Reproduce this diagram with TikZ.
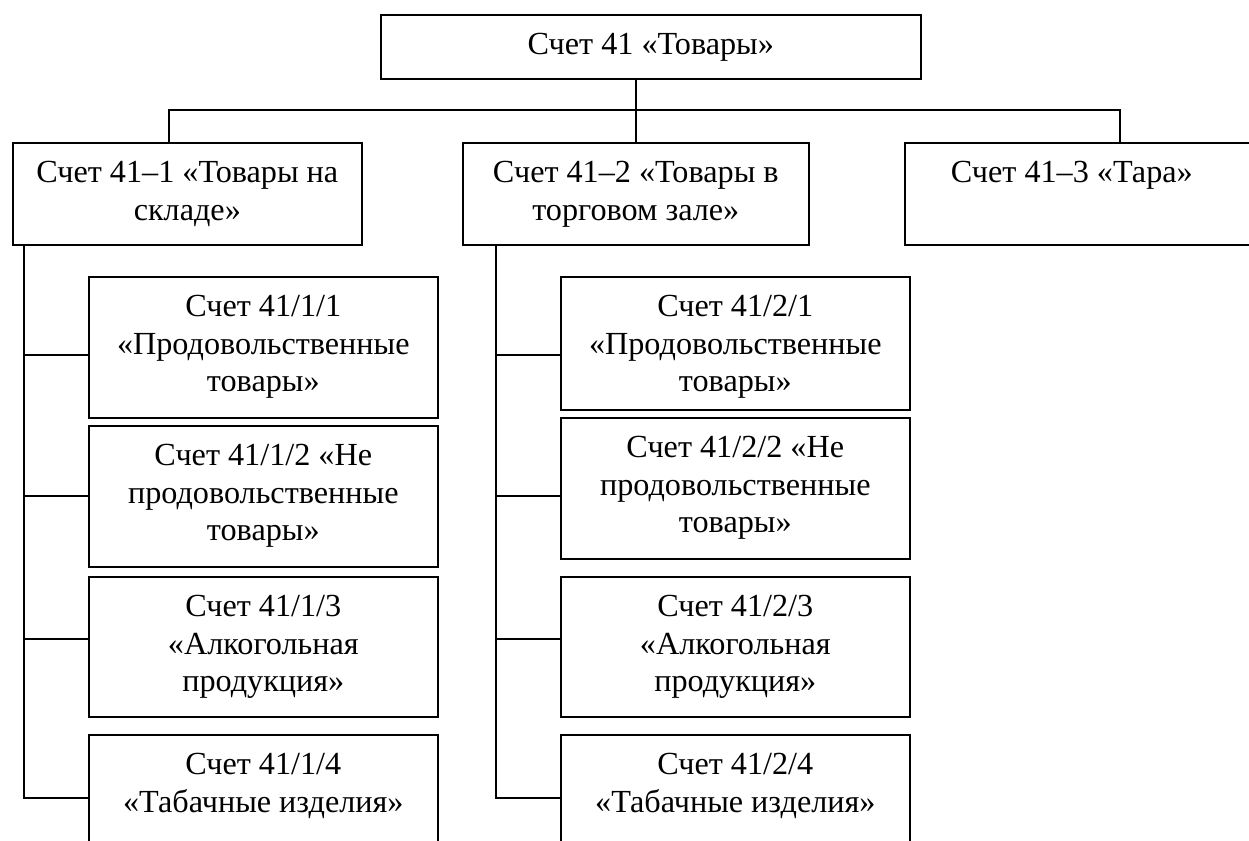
\documentclass[tikz,border=0pt]{standalone}
\usepackage{fontspec}
\setmainfont{Liberation Serif}
\newcommand\bxt[3]{\parbox[c][#2][t]{#1}{\centering\rule{0pt}{39.5bp}#3}}
\begin{document}
\begin{tikzpicture}[x=1bp,y=-1bp,
  box/.style={draw, line width=1.6bp, inner sep=0pt, anchor=north west,
    font=\fontsize{32.2bp}{37.7bp}\selectfont},
  conn/.style={line width=1.6bp}]
\path[use as bounding box] (0,0) rectangle (1249,841);
\clip (0,0) rectangle (1249,841);
\node[box] (T) at (380,14) {\bxt{540bp}{64bp}{Счет 41 «Товары»}};
\node[box] (b1) at (12,142) {\bxt{349bp}{102bp}{Счет 41–1 «Товары на\\складе»}};
\node[box] (b2) at (462,142) {\bxt{346bp}{102bp}{Счет 41–2 «Товары в\\торговом зале»}};
\node[box] (b3) at (904,142) {\bxt{334bp}{102bp}{Счет 41–3 «Тара»}\hspace*{40bp}};
\node[box] (s11) at (88,276) {\bxt{349bp}{141bp}{Счет 41/1/1\\«Продовольственные\\товары»}};
\node[box] (s12) at (88,425) {\bxt{349bp}{141bp}{Счет 41/1/2 «Не\\продовольственные\\товары»}};
\node[box] (s13) at (88,576) {\bxt{349bp}{140bp}{Счет 41/1/3\\«Алкогольная\\продукция»}};
\node[box] (s14) at (88,734) {\bxt{349bp}{141bp}{Счет 41/1/4\\«Табачные изделия»}};
\node[box] (s21) at (560,276) {\bxt{349bp}{133bp}{Счет 41/2/1\\«Продовольственные\\товары»}};
\node[box] (s22) at (560,417) {\bxt{349bp}{141bp}{Счет 41/2/2 «Не\\продовольственные\\товары»}};
\node[box] (s23) at (560,576) {\bxt{349bp}{140bp}{Счет 41/2/3\\«Алкогольная\\продукция»}};
\node[box] (s24) at (560,734) {\bxt{349bp}{141bp}{Счет 41/2/4\\«Табачные изделия»}};
% top level connectors
\coordinate (j1) at (169,110);
\coordinate (j3) at (1120,110);
\draw[conn] (T.south -| b2.north) -- (b2.north);
\draw[conn] (j1 |- b1.north) -- (j1) -- (j3) -- (j3 |- b3.north);
% left bus
\coordinate (L) at (24,0);
\coordinate (c11) at (88,355);
\coordinate (c12) at (88,496);
\coordinate (c13) at (88,639);
\coordinate (c14) at (88,798);
\draw[conn] (L |- b1.south) -- (L |- c14) -- (c14);
\draw[conn] (L |- c11) -- (c11);
\draw[conn] (L |- c12) -- (c12);
\draw[conn] (L |- c13) -- (c13);
% right bus
\coordinate (R) at (496,0);
\coordinate (c21) at (560,355);
\coordinate (c22) at (560,496);
\coordinate (c23) at (560,639);
\coordinate (c24) at (560,798);
\draw[conn] (R |- b2.south) -- (R |- c24) -- (c24);
\draw[conn] (R |- c21) -- (c21);
\draw[conn] (R |- c22) -- (c22);
\draw[conn] (R |- c23) -- (c23);
\end{tikzpicture}
\end{document}
